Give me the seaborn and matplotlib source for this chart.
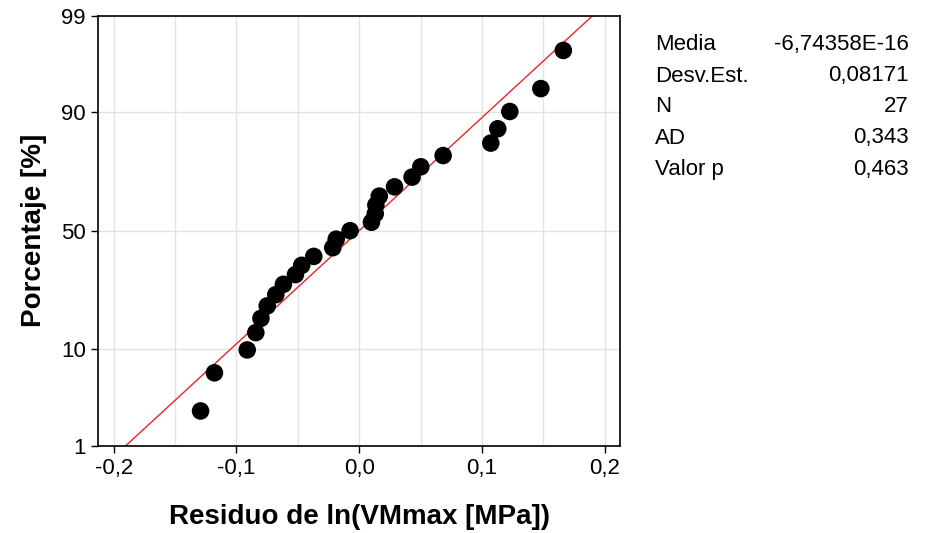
import matplotlib
matplotlib.use("Agg")
import matplotlib.pyplot as plt
import matplotlib.ticker as mticker
import seaborn as sns
import pandas as pd
from statistics import NormalDist

# Residuals of ln(VMmax), sorted ascending
residuals = [-0.1292, -0.1179, -0.0912, -0.0842, -0.0800, -0.0749, -0.0679,
             -0.0617, -0.0519, -0.0468, -0.0370, -0.0215, -0.0187, -0.0074,
             0.0100, 0.0131, 0.0136, 0.0164, 0.0288, 0.0431, 0.0502, 0.0684,
             0.1072, 0.1129, 0.1227, 0.1480, 0.1663]

pct_ticks = [1, 10, 50, 90, 99]
x_ticks = [-0.2, -0.1, 0.0, 0.1, 0.2]

stat_names = ["Media", "Desv.Est.", "N", "AD", "Valor p"]
stat_values = ["-6,74358E-16", "0,08171", "27", "0,343", "0,463"]
fit_mean = -6.74358e-16
fit_sd = 0.08171

nd = NormalDist()
n = len(residuals)
# median-rank plotting positions on a normal-probability axis
ranks = range(1, n + 1)
z_pos = [nd.inv_cdf((i - 0.3) / (n + 0.4)) for i in ranks]
points = pd.DataFrame({"res": sorted(residuals), "z": z_pos})

# fitted normal line across the axis range
z_line = [nd.inv_cdf(p / 100) for p in pct_ticks]
line = pd.DataFrame({"res": [fit_mean + fit_sd * z for z in z_line], "z": z_line})

sns.set_style("white")
plt.rcParams["font.family"] = ["Liberation Sans", "DejaVu Sans"]
plt.rcParams["text.color"] = "black"
plt.rcParams["axes.labelcolor"] = "black"

fig = plt.figure(figsize=(9.3, 5.33), dpi=100)
ax = fig.add_axes([0.1057, 0.1638, 0.5610, 0.8067])

sns.lineplot(data=line, x="res", y="z", color="#e8262a", linewidth=1.0,
             ax=ax, sort=False, zorder=2)
sns.scatterplot(data=points, x="res", y="z", color="black", s=160,
                edgecolor="none", ax=ax, zorder=3)

ax.set_xlim(-0.2125, 0.2125)
ax.set_ylim(nd.inv_cdf(0.01), nd.inv_cdf(0.99))

ax.set_xticks(x_ticks)
ax.xaxis.set_minor_locator(mticker.MultipleLocator(0.05))
ax.xaxis.set_major_formatter(
    mticker.FuncFormatter(lambda v, _: f"{v:.1f}".replace(".", ",").replace("-0,0", "0,0")))
ax.set_yticks([nd.inv_cdf(p / 100) for p in pct_ticks])
ax.set_yticklabels([str(p) for p in pct_ticks])

ax.grid(True, which="both", axis="x", color="#e3e3e3", linewidth=1.0, zorder=0)
ax.grid(True, which="major", axis="y", color="#e3e3e3", linewidth=1.0, zorder=0)
ax.set_axisbelow(True)

ax.tick_params(axis="both", which="major", direction="out", length=5, width=1,
               color="black", labelsize=16, labelcolor="black", pad=4,
               bottom=True, left=True)
ax.tick_params(axis="x", which="minor", length=0)
for sp in ax.spines.values():
    sp.set_color("black")
    sp.set_linewidth(1.2)

ax.set_xlabel("Residuo de ln(VMmax [MPa])", fontsize=20, fontweight="bold",
              labelpad=18)
ax.set_ylabel("Porcentaje [%]", fontsize=20, fontweight="bold", labelpad=10)

# summary statistics panel
for k, (name, val) in enumerate(zip(stat_names, stat_values)):
    yy = 1 - (45 + 31 * k) / 533
    fig.text(0.7043, yy, name, ha="left", va="center", fontsize=16, color="black")
    fig.text(0.977, yy, val, ha="right", va="center", fontsize=16, color="black")

fig.savefig("out.png", dpi=100, facecolor="white")
